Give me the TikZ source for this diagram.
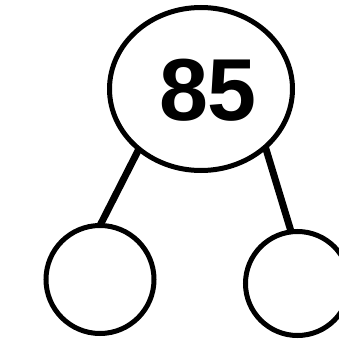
\documentclass[tikz,border=0pt]{standalone}
\usepackage{fontspec}
\setmainfont{Liberation Sans}
\usetikzlibrary{shapes.geometric}

\begin{document}
\begin{tikzpicture}[
  x=1pt, y=-1pt,
  bubble/.style={draw, line width=5pt, inner sep=0pt, outer sep=0pt},
  link/.style={line width=7pt}
]
\useasboundingbox (0,0) rectangle (339,340);

\node[bubble, ellipse, minimum width=183pt, minimum height=163pt] (root) at (201,89) {};
\node[font=\fontsize{88}{88}\selectfont\bfseries, inner sep=0pt] (value) at (208,90.5) {85};

\node[bubble, circle, minimum size=108pt] (left) at (100,279.5) {};
\node[bubble, circle, minimum size=104pt] (right) at (297.5,283.5) {};

\draw[link] (root.224) -- (left.90);
\draw[link] (root.318) -- (right.97);
\end{tikzpicture}
\end{document}
